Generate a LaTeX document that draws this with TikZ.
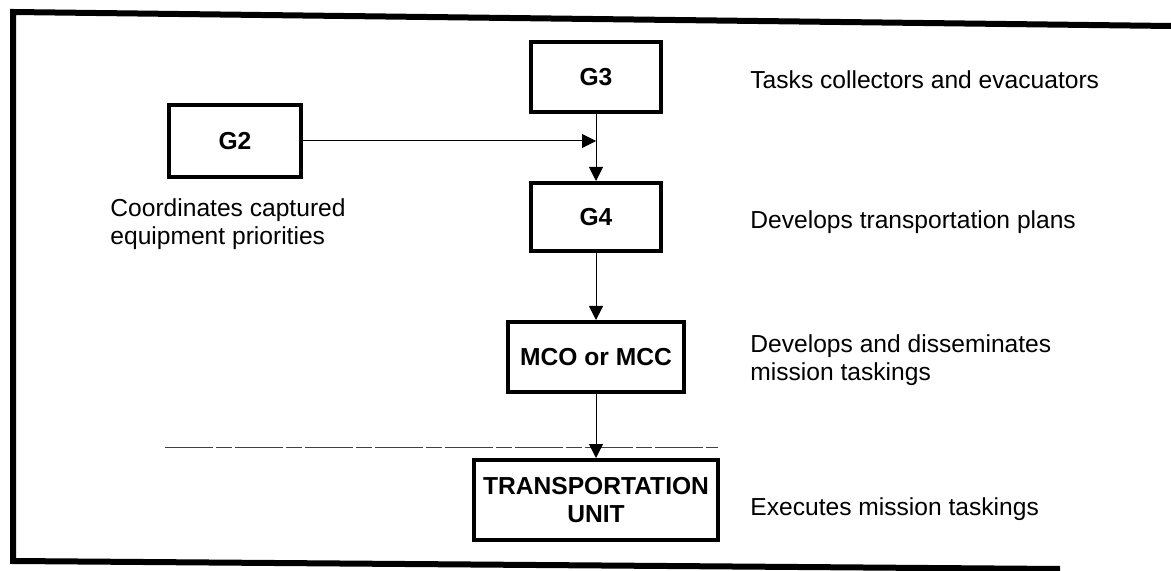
\documentclass[tikz,border=0pt]{standalone}
\usepackage{fontspec}
\setmainfont{Liberation Sans}
\usetikzlibrary{arrows.meta}
\tikzset{
    box/.style={draw, rectangle, line width=2pt, inner sep=2pt, align=center, font=\bfseries\fontsize{12.3}{14}\selectfont},
    note/.style={anchor=west, inner sep=0pt, align=left, font=\fontsize{12.3}{14}\selectfont},
    link/.style={-{Triangle[length=7pt,width=7pt]}, line width=0.5pt}
}

\begin{document}
\begin{tikzpicture}[x=0.5pt, y=-0.5pt]
    \useasboundingbox (0,0) rectangle (1171,571);
    \draw[line width=3pt] (1171,26) -- (13,12) -- (13,561) -- (1060,569);
    \draw[line width=0.4pt, black!75, dash pattern=on 24pt off 1.5pt on 8pt off 1.5pt] (165,447) -- (718,447);

    \node[box, minimum width=66pt, minimum height=36pt] (g2) at (235,141) {G2};
    \node[box, minimum width=65pt, minimum height=35pt] (g3) at (596,77) {G3};
    \node[box, minimum width=65pt, minimum height=34pt] (g4) at (596,217) {G4};
    \node[box, minimum width=88pt, minimum height=35pt] (mco) at (596,357) {MCO or MCC};
    \node[box, minimum width=122pt, minimum height=40pt] (unit) at (596,500) {TRANSPORTATION\\UNIT};

    \node[note] (g2txt) at (110,224) {Coordinates captured\\equipment priorities};
    \node[note] (g3txt) at (750,80) {Tasks collectors and evacuators};
    \node[note] (g4txt) at (750,222) {Develops transportation plans};
    \node[note] (mcotxt) at (750,360) {Develops and disseminates\\mission taskings};
    \node[note] (unittxt) at (750,509) {Executes mission taskings};

    \coordinate (join) at (g3.south |- g2.east);
    \draw[link] (g2.east) -- (join);
    \draw[link] (g3) -- (g4);
    \draw[link] (g4) -- (mco);
    \draw[link] (mco) -- (unit);
\end{tikzpicture}
\end{document}
